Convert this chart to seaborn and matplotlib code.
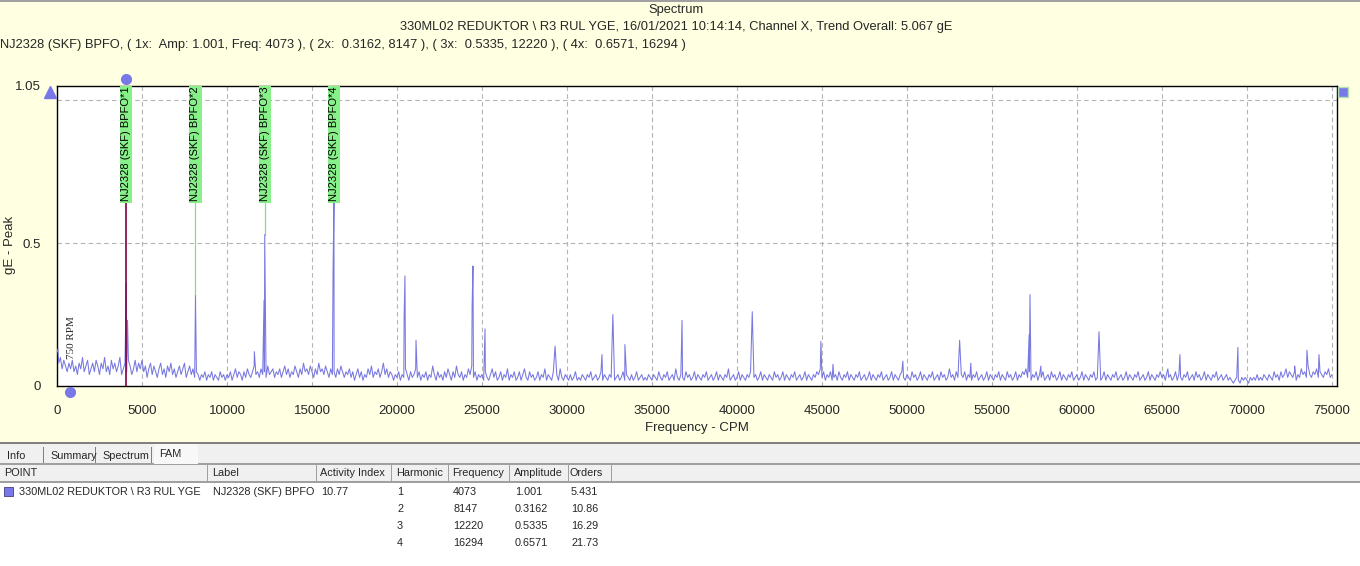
import numpy as np
import pandas as pd
import matplotlib
matplotlib.use("Agg")
import matplotlib.pyplot as plt
from matplotlib.patches import Rectangle
import seaborn as sns

# ---------------- data ----------------
noise_step = 100  # CPM spacing of the noise-floor readings
noise_amp = [
    # 0 - 4900
    0.12,0.08,0.10,0.06,0.09,0.07,0.05,0.08,0.06,0.09, 0.05,0.07,0.04,0.08,0.06,0.10,0.05,0.07,0.09,0.04,
    0.06,0.08,0.05,0.09,0.07,0.04,0.08,0.06,0.10,0.05, 0.07,0.04,0.09,0.06,0.08,0.05,0.07,0.10,0.04,0.06,
    0.08,0.05,0.09,0.07,0.04,0.06,0.09,0.05,0.08,0.06,
    # 5000 - 9900
    0.09,0.05,0.07,0.03,0.06,0.08,0.04,0.07,0.05,0.03, 0.06,0.08,0.04,0.06,0.03,0.07,0.05,0.08,0.04,0.06,
    0.03,0.05,0.07,0.04,0.06,0.08,0.03,0.05,0.07,0.04, 0.06,0.03,0.05,0.04,0.02,0.04,0.03,0.05,0.02,0.04,
    0.03,0.05,0.02,0.04,0.03,0.02,0.05,0.03,0.04,0.02,
    # 10000 - 14900
    0.04,0.03,0.05,0.02,0.04,0.06,0.03,0.05,0.04,0.02, 0.05,0.03,0.06,0.04,0.03,0.05,0.07,0.04,0.05,0.03,
    0.06,0.04,0.05,0.03,0.07,0.04,0.05,0.06,0.03,0.05, 0.04,0.06,0.03,0.05,0.07,0.04,0.06,0.03,0.05,0.04,
    0.07,0.05,0.03,0.06,0.04,0.08,0.05,0.06,0.04,0.07,
    # 15000 - 19900
    0.05,0.03,0.06,0.04,0.08,0.05,0.06,0.04,0.07,0.05, 0.03,0.06,0.04,0.05,0.03,0.06,0.04,0.07,0.05,0.03,
    0.05,0.04,0.06,0.03,0.05,0.02,0.04,0.06,0.03,0.05, 0.02,0.04,0.03,0.06,0.04,0.07,0.03,0.05,0.04,0.06,
    0.03,0.05,0.08,0.04,0.06,0.03,0.05,0.04,0.02,0.04,
    # 20000 - 24900
    0.03,0.05,0.02,0.04,0.03,0.06,0.04,0.02,0.05,0.03, 0.04,0.06,0.03,0.05,0.02,0.04,0.03,0.05,0.02,0.04,
    0.03,0.07,0.04,0.02,0.05,0.03,0.04,0.02,0.05,0.03, 0.06,0.04,0.02,0.05,0.03,0.07,0.04,0.03,0.05,0.02,
    0.04,0.03,0.06,0.04,0.07,0.03,0.05,0.02,0.04,0.03,
    # 25000 - 29900
    0.04,0.02,0.05,0.03,0.02,0.04,0.06,0.03,0.05,0.02, 0.03,0.05,0.02,0.04,0.03,0.06,0.02,0.04,0.03,0.05,
    0.02,0.03,0.05,0.02,0.04,0.06,0.03,0.02,0.05,0.03, 0.04,0.02,0.03,0.05,0.02,0.04,0.03,0.06,0.02,0.04,
    0.03,0.02,0.05,0.03,0.04,0.02,0.06,0.03,0.02,0.04,
    # 30000 - 34900
    0.03,0.02,0.04,0.02,0.03,0.05,0.02,0.03,0.02,0.04, 0.03,0.02,0.04,0.03,0.05,0.02,0.03,0.04,0.02,0.03,
    0.05,0.02,0.04,0.03,0.02,0.04,0.03,0.05,0.02,0.03, 0.04,0.02,0.03,0.05,0.02,0.04,0.03,0.02,0.04,0.02,
    0.03,0.05,0.02,0.03,0.04,0.02,0.03,0.02,0.04,0.03,
    # 35000 - 39900
    0.02,0.04,0.03,0.02,0.05,0.03,0.02,0.04,0.03,0.05, 0.02,0.03,0.04,0.02,0.06,0.03,0.02,0.04,0.03,0.02,
    0.05,0.03,0.04,0.02,0.03,0.05,0.02,0.04,0.03,0.02, 0.04,0.03,0.05,0.02,0.03,0.04,0.02,0.03,0.05,0.02,
    0.04,0.03,0.02,0.04,0.03,0.06,0.02,0.03,0.04,0.02,
    # 40000 - 44900
    0.03,0.05,0.02,0.04,0.03,0.02,0.04,0.03,0.05,0.02, 0.03,0.04,0.02,0.03,0.05,0.02,0.04,0.03,0.02,0.04,
    0.03,0.02,0.05,0.03,0.04,0.02,0.03,0.05,0.02,0.04, 0.03,0.02,0.04,0.03,0.05,0.02,0.03,0.04,0.02,0.03,
    0.05,0.02,0.04,0.03,0.02,0.04,0.03,0.05,0.04,0.06,
    # 45000 - 49900
    0.03,0.05,0.02,0.04,0.03,0.05,0.02,0.03,0.04,0.02, 0.05,0.03,0.02,0.04,0.03,0.05,0.02,0.04,0.03,0.02,
    0.04,0.03,0.05,0.02,0.03,0.04,0.02,0.03,0.05,0.02, 0.04,0.03,0.02,0.04,0.03,0.05,0.02,0.03,0.04,0.02,
    0.03,0.05,0.02,0.04,0.03,0.02,0.04,0.05,0.03,0.02,
    # 50000 - 54900
    0.04,0.03,0.02,0.05,0.03,0.04,0.02,0.03,0.05,0.02, 0.04,0.03,0.02,0.04,0.03,0.05,0.02,0.03,0.04,0.02,
    0.05,0.03,0.04,0.02,0.03,0.06,0.03,0.04,0.02,0.05, 0.03,0.02,0.04,0.03,0.05,0.02,0.04,0.03,0.02,0.04,
    0.03,0.05,0.02,0.03,0.04,0.02,0.03,0.05,0.02,0.04,
    # 55000 - 59900
    0.03,0.02,0.04,0.03,0.05,0.02,0.04,0.03,0.02,0.05, 0.03,0.04,0.02,0.03,0.05,0.02,0.04,0.03,0.05,0.04,
    0.06,0.03,0.05,0.02,0.04,0.03,0.05,0.02,0.04,0.03, 0.05,0.02,0.03,0.04,0.02,0.05,0.03,0.04,0.02,0.03,
    0.05,0.02,0.04,0.03,0.02,0.04,0.03,0.05,0.02,0.03,
    # 60000 - 64900
    0.04,0.02,0.03,0.05,0.02,0.04,0.03,0.02,0.04,0.03, 0.05,0.02,0.03,0.04,0.02,0.03,0.05,0.02,0.04,0.03,
    0.02,0.04,0.03,0.05,0.02,0.03,0.04,0.02,0.03,0.05, 0.02,0.04,0.03,0.02,0.04,0.03,0.05,0.02,0.03,0.04,
    0.02,0.03,0.05,0.02,0.04,0.03,0.02,0.04,0.03,0.05,
    # 65000 - 69900
    0.03,0.04,0.02,0.05,0.03,0.04,0.02,0.03,0.05,0.02, 0.04,0.03,0.02,0.04,0.03,0.05,0.02,0.03,0.04,0.02,
    0.05,0.03,0.04,0.02,0.03,0.05,0.02,0.04,0.03,0.02, 0.04,0.03,0.05,0.02,0.03,0.04,0.02,0.03,0.04,0.02,
    0.03,0.02,0.01,0.02,0.03,0.02,0.01,0.03,0.02,0.03,
    # 70000 - 74900
    0.02,0.01,0.03,0.02,0.03,0.02,0.04,0.02,0.03,0.02, 0.04,0.03,0.02,0.04,0.03,0.02,0.05,0.03,0.04,0.02,
    0.05,0.03,0.04,0.06,0.03,0.05,0.04,0.03,0.05,0.02, 0.04,0.03,0.06,0.04,0.05,0.03,0.07,0.04,0.03,0.05,
    0.04,0.06,0.03,0.05,0.04,0.03,0.05,0.04,0.06,0.03,
    # 75000
    0.04,
]

peak_freq = [60, 4073, 4150, 8147, 11610, 12180, 12220, 16240, 16294, 20420, 20470, 21120,
             24420, 24470, 25180, 29300, 32060, 32700, 33410, 36770, 40900, 44940,
             45650, 49760, 53100, 53760, 57190, 57240, 57880, 61300, 65350, 66060,
             69470, 72810, 73530, 74240]
peak_amp = [0.13, 0.36, 0.23, 0.316, 0.12, 0.30, 0.53, 0.40, 0.66, 0.24, 0.385, 0.16,
            0.28, 0.42, 0.20, 0.14, 0.11, 0.25, 0.145, 0.23, 0.26, 0.156,
            0.076, 0.087, 0.16, 0.08, 0.18, 0.32, 0.07, 0.19, 0.06, 0.11,
            0.135, 0.07, 0.125, 0.11]

harmonics = [1, 2, 3, 4]
harm_freq = [4073, 8147, 12220, 16294]
harm_amp = [1.001, 0.3162, 0.5335, 0.6571]
harm_orders = [5.431, 10.86, 16.29, 21.73]
harm_freq_txt = ["4073", "8147", "12220", "16294"]
harm_amp_txt = ["1.001", "0.3162", "0.5335", "0.6571"]
harm_orders_txt = ["5.431", "10.86", "16.29", "21.73"]
x_ticks = [0, 5000, 10000, 15000, 20000, 25000, 30000, 35000, 40000, 45000,
           50000, 55000, 60000, 65000, 70000, 75000]
rpm_freq = 750
activity_index = "10.77"
point_name = "330ML02 REDUKTOR \\ R3 RUL YGE"
fam_label = "NJ2328 (SKF) BPFO"

# ---------------- build frame ----------------
noise_freq = np.arange(len(noise_amp)) * noise_step
df = pd.DataFrame({"freq": np.concatenate([noise_freq, peak_freq]),
                   "amp": np.concatenate([noise_amp, peak_amp])})
df = df.groupby("freq", as_index=False)["amp"].max().sort_values("freq")

# ---------------- figure ----------------
sns.set_theme(style="white")
plt.rcParams["font.family"] = ["Liberation Sans", "DejaVu Sans"]
W, H = 1360, 566
fig = plt.figure(figsize=(W / 100, H / 100), dpi=100)
bg_yellow = "#FFFFE1"
fig.patch.set_facecolor(bg_yellow)


def fx(x):
    return x / W


def fy(y):
    return 1 - y / H


ax_l, ax_r, ax_t, ax_b = 57, 1337, 86, 386
ax = fig.add_axes([fx(ax_l), fy(ax_b), fx(ax_r - ax_l), (ax_b - ax_t) / H])
ax.set_facecolor("white")

xmax = 75300
ymax = 1.05
ax.set_xlim(0, xmax)
ax.set_ylim(0, ymax)

# grid
for xt in x_ticks[1:]:
    ax.axvline(xt, color="#B4B4B4", lw=0.8, ls=(0, (4, 3)), zorder=0)
for yt in [0.5, 1.0]:
    ax.axhline(yt, color="#B4B4B4", lw=0.8, ls=(0, (4, 3)), zorder=0)

sns.lineplot(data=df, x="freq", y="amp", ax=ax, color="#7878E0", lw=0.75,
             estimator=None, sort=True, zorder=3)

# cursor line (harmonic 1) and marker lines
lab_bottom = 0.646
ax.axvline(harm_freq[0], color="#800040", lw=1.2, zorder=4)
for f, a in zip(harm_freq[1:3], [0.316, 0.53]):
    ax.plot([f, f], [a, lab_bottom], color="#80E080", lw=0.9, zorder=2)

for h, f in zip(harmonics, harm_freq):
    ax.text(f, lab_bottom, f"{fam_label}*{h}", rotation=90, ha="center", va="bottom",
            fontsize=8.0, color="black", zorder=6,
            bbox=dict(boxstyle="square,pad=0.1", fc="#88F088", ec="none"))

ax.text(rpm_freq + 130, 0.095, f"{rpm_freq} RPM", rotation=90, ha="center", va="bottom",
        fontsize=8, family="Liberation Serif", zorder=6)

# markers outside the plot
ax.plot([harm_freq[0]], [ymax + 0.025], "o", color="#7878E8", ms=7, clip_on=False, zorder=7)
ax.plot([rpm_freq], [-0.022], "o", color="#7878E8", ms=7, clip_on=False, zorder=7)
ax.plot([-400], [1.03], "^", color="#7878E8", ms=8, clip_on=False, zorder=7)
ax.plot([75650], [1.03], "s", color="#7878E8", ms=7, mec="#B0E0B0", clip_on=False, zorder=7)

ax.set_xticks(x_ticks)
ax.set_xticklabels([str(t) for t in x_ticks], fontsize=9.5)
ax.set_yticks([0, 0.5, ymax])
ax.set_yticklabels(["0", "0.5", "1.05"], fontsize=9.5)
ax.tick_params(axis="x", length=0, pad=14)
ax.tick_params(axis="y", length=0, pad=11.5)
ax.set_xlabel("Frequency - CPM", fontsize=9.5, labelpad=3)
ax.set_ylabel("gE - Peak", fontsize=9.5)
ax.yaxis.set_label_coords(-0.032, 0.47)
for s in ax.spines.values():
    s.set_visible(True)
    s.set_color("black")
    s.set_linewidth(1.0)

# titles
fig.text(0.497, fy(10), "Spectrum", ha="center", va="center", fontsize=9.3)
fig.text(0.497, fy(27), "330ML02 REDUKTOR \\ R3 RUL YGE, 16/01/2021 10:14:14, Channel X, Trend Overall: 5.067 gE",
         ha="center", va="center", fontsize=9.3)
fig.text(fx(0), fy(45), f"{fam_label}, ( 1x:  Amp: {harm_amp_txt[0]}, Freq: {harm_freq_txt[0]} ), "
         f"( 2x:  {harm_amp_txt[1]}, {harm_freq_txt[1]} ), ( 3x:  {harm_amp_txt[2]}, {harm_freq_txt[2]} ), "
         f"( 4x:  {harm_amp_txt[3]}, {harm_freq_txt[3]} )",
         ha="left", va="center", fontsize=9.3)

# top border line
fig.add_artist(Rectangle((0, fy(2)), 1, 2 / H, transform=fig.transFigure, fc="#A0A0A0", ec="none"))

# ---------------- bottom panel ----------------
def rect(x0, y0, x1, y1, fc, ec="none", lw=0.8, z=1):
    fig.add_artist(Rectangle((fx(x0), fy(y1)), fx(x1 - x0), (y1 - y0) / H,
                             transform=fig.transFigure, fc=fc, ec=ec, lw=lw, zorder=z))


rect(0, 443, W, H, "white")
rect(0, 442, W, 444, "#808080")
rect(0, 444, W, 463, "#F0F0F0")
rect(0, 463, W, 464.5, "#A0A0A0")
rect(0, 464.5, W, 481, "#F0F0F0")
rect(0, 481, W, 482.5, "#A0A0A0")

tfs = 7.8
tabs = [("Info", 3, 44), ("Summary", 46, 96), ("Spectrum", 98, 152), ("FAM", 154, 198)]
for name, x0, x1 in tabs:
    if name == "FAM":
        rect(x0, 444, x1, 463.5, "#F8F8F8", z=2)
        fig.text(fx(x0 + 5), fy(454), name, ha="left", va="center", fontsize=tfs, zorder=3)
    else:
        rect(x1 - 1, 447, x1, 463, "#808080", z=2)
        fig.text(fx(x0 + 4), fy(456), name, ha="left", va="center", fontsize=tfs, zorder=3)

headers = [("POINT", 4, 207), ("Label", 212, 316), ("Activity Index", 320, 391),
           ("Harmonic", 396, 448), ("Frequency", 452, 509), ("Amplitude", 514, 568),
           ("Orders", 570, 611)]
for name, x0, x1 in headers:
    fig.text(fx(x0), fy(473), name, ha="left", va="center", fontsize=tfs, zorder=3)
    rect(x1, 465, x1 + 1, 481, "#A0A0A0", z=2)

row_y = [492, 509, 526, 543]
rect(4, 487, 13, 496, "#7878E8", ec="#404080", lw=0.6, z=3)
fig.text(fx(19), fy(row_y[0]), point_name, ha="left", va="center", fontsize=tfs)
fig.text(fx(213), fy(row_y[0]), fam_label, ha="left", va="center", fontsize=tfs)
fig.text(fx(321), fy(row_y[0]), activity_index, ha="left", va="center", fontsize=tfs)
for i, y in enumerate(row_y):
    fig.text(fx(397), fy(y), str(harmonics[i]), ha="left", va="center", fontsize=tfs)
    fig.text(fx(453), fy(y), harm_freq_txt[i], ha="left", va="center", fontsize=tfs)
    fig.text(fx(515), fy(y), harm_amp_txt[i], ha="left", va="center", fontsize=tfs)
    fig.text(fx(571), fy(y), harm_orders_txt[i], ha="left", va="center", fontsize=tfs)

fig.savefig("out.png", dpi=100, facecolor=fig.get_facecolor())
